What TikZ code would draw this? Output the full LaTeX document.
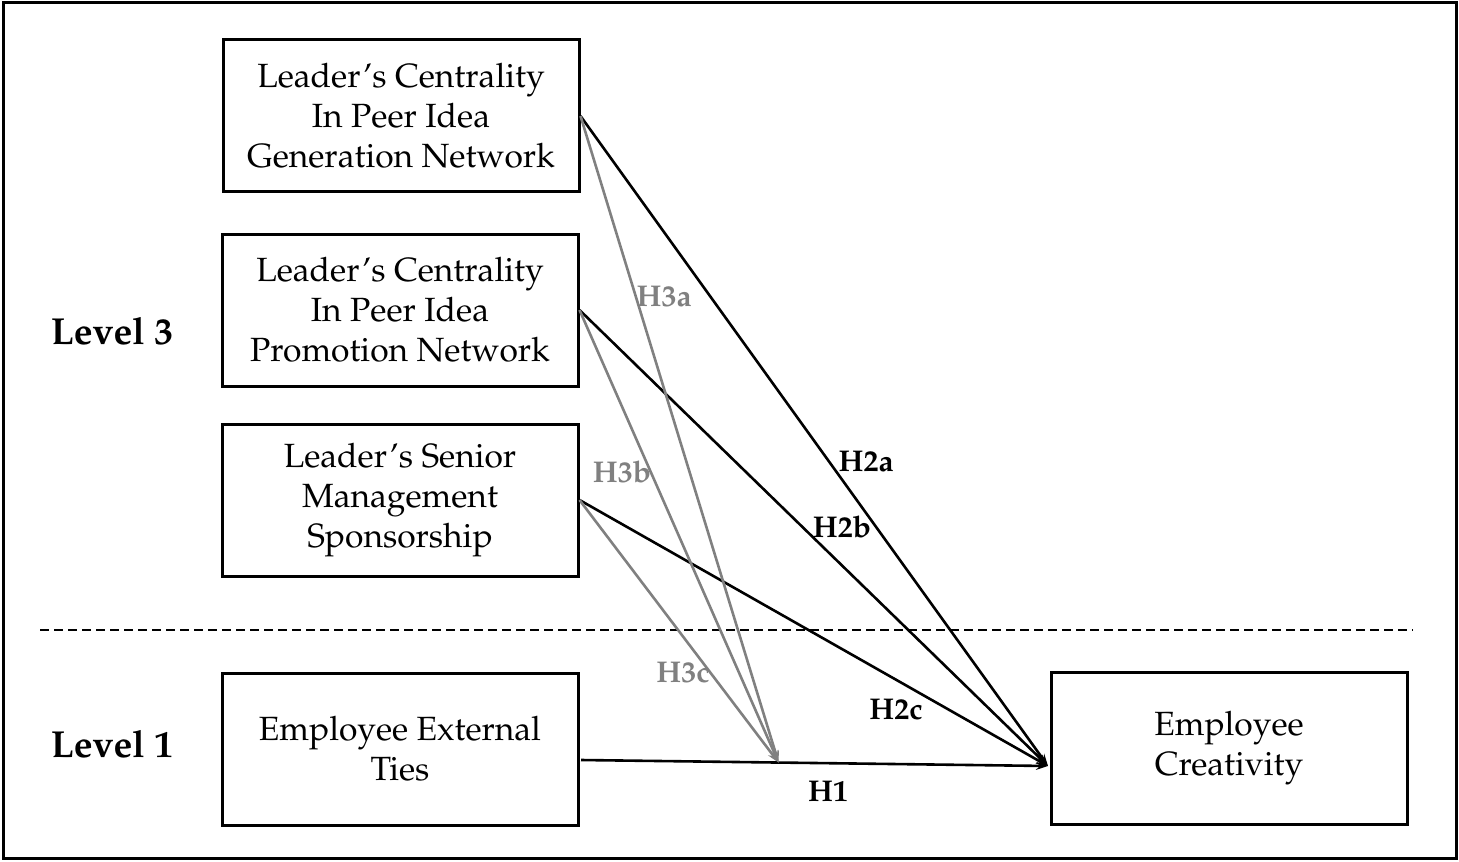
\documentclass[tikz,border=0pt]{standalone}
\usepackage[T1]{fontenc}
\usepackage{mathpazo}
\usetikzlibrary{arrows.meta}
\usetikzlibrary{positioning}
\usetikzlibrary{calc}

\begin{document}
\begin{tikzpicture}[x=0.5pt,y=-0.5pt]
        \tikzstyle{every node}=[font=\fontsize{16.8}{20}\selectfont]
        \tikzstyle{var}=[draw, line width=1.5pt, minimum width=178pt, minimum height=76pt, align=center, inner sep=0pt]
        \tikzstyle{lbl}=[font=\fontsize{15}{18}\selectfont\bfseries]
        \tikzstyle{lev}=[font=\fontsize{18.8}{22}\selectfont\bfseries]
        \tikzstyle{hyp}=[line width=1.3pt, -{Stealth[length=6pt,width=4pt]}]
        \tikzstyle{mod}=[hyp, gray]
        \useasboundingbox (0,0) rectangle (1459,861);
        \draw[line width=1.5pt] (3,3) rectangle (1456,858);
        \node[var] (gen) at (401,116) {Leader's Centrality\\ In Peer Idea\\ Generation Network};
        \node[var] (promo) at (400,310) {Leader's Centrality\\ In Peer Idea\\ Promotion Network};
        \node[var] (senior) at (400,500) {Leader's Senior\\ Management\\ Sponsorship};
        \node[var] (ties) at (400,749) {Employee External\\ Ties};
        \node[var] (creat) at (1229,748) {Employee\\ Creativity};
        \node[lev] (lev3) at (112,331) {Level 3};
        \node[lev] (lev1) at (112,744) {Level 1};
        \draw[line width=1.2pt, dash pattern=on 4.5pt off 2.5pt] (40,630) -- (1413,630);
        \coordinate (tip) at (1048,766);
        \coordinate (h1start) at (581,760);
        \coordinate (mid) at ($(h1start)!0.423!(tip)$);
        % direct effects
        \draw[hyp] (h1start) -- (tip);
        \draw[hyp] (gen.east) -- (tip);
        \draw[hyp] (promo.east) -- (tip);
        \draw[hyp] (senior.east) -- (tip);
        % cross-level moderation
        \draw[mod] (gen.east) -- (mid);
        \draw[mod] (promo.east) -- (mid);
        \draw[mod] (senior.east) -- (mid);
        \node[lbl, text=gray] (h3a) at (664,297) {H3a};
        \node[lbl, text=gray] (h3b) at (622,472) {H3b};
        \node[lbl, text=gray] (h3c) at (683,673) {H3c};
        \node[lbl] (h2a) at (866,462) {H2a};
        \node[lbl] (h2b) at (842,527) {H2b};
        \node[lbl] (h2c) at (896,710) {H2c};
        \node[lbl] (h1) at (828,792) {H1};
      \end{tikzpicture}
\end{document}
